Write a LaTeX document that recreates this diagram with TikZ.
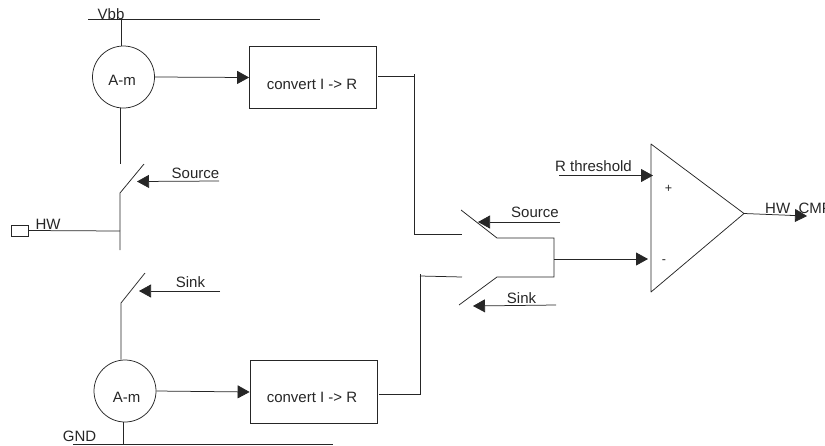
\documentclass[tikz,border=0pt]{standalone}
\usepackage{fontspec}
\setmainfont{Liberation Sans}
\usetikzlibrary{arrows.meta}
\tikzset{
  wire/.style={draw=black!85,line width=0.75pt},
  arr/.style={wire,-{Triangle[length=12pt,width=13pt]},shorten >=0pt},
  lab/.style={inner sep=0pt,font=\fontsize{15}{17}\selectfont,text=black!85},
  small/.style={inner sep=0pt,font=\fontsize{12.5}{14}\selectfont,text=black!85},
  meter/.style={circle,wire,minimum size=62pt,inner sep=0pt},
  conv/.style={rectangle,wire,inner sep=0pt},
  pt/.style={coordinate}
}
\begin{document}
\begin{tikzpicture}[x=1pt,y=-1pt]
\useasboundingbox (0,0) rectangle (825,445);
\clip (0,0) rectangle (825,445);
% rails
\coordinate (vbbL) at (88,19); \coordinate (vbbR) at (320,19);
\coordinate (vbbT) at (121.5,19);
\coordinate (gndL) at (73,444); \coordinate (gndR) at (333,444);
\coordinate (gndT) at (123.5,444);
\node[lab] (vbbtxt) at (111,14) {Vbb};
\draw[wire] (vbbL) -- (vbbR);
\node[lab,fill=white] (gndtxt) at (79.5,436) {GND};
\draw[wire] (gndL) -- (gndR);
% meters
\node[meter] (am1) at (123.5,77) {};
\node[lab] (am1t) at (122,80) {A-m};
\node[meter] (am2) at (125,391) {};
\node[lab] (am2t) at (126.5,397) {A-m};
\draw[wire] (vbbT) -- (vbbT |- am1.north);
\draw[wire] (am2.south -| gndT) -- (gndT);
% converters
\node[conv,minimum width=127pt,minimum height=62.5pt] (c1) at (313,77.5) {};
\node[lab] (c1t) at (312,84) {convert I -> R};
\node[conv,minimum width=127pt,minimum height=62.5pt] (c2) at (313.5,392) {};
\node[lab] (c2t) at (312,397) {convert I -> R};
\draw[arr] (am1.east) -- (c1.west);
\draw[arr] (am2.east) -- (c2.west);
% top left switch
\coordinate (s1a) at (120.5,164); \coordinate (s1b) at (144,164);
\coordinate (s1c) at (120,193); \coordinate (s1d) at (120,250);
\coordinate (hwj) at (120,231);
\node[conv,minimum width=17pt,minimum height=11pt] (hwbox) at (20,230.5) {};
\draw[wire] (s1a |- am1.south) -- (s1a);
\draw[wire] (s1b) -- (s1c) -- (s1d);
\draw[wire] (hwbox.east) -- (hwj);
\node[lab] (hwt) at (48,224) {HW};
\node[lab] (src1) at (195.5,173) {Source};
\coordinate (src1s) at (219,181); \coordinate (src1e) at (137,181.5);
\draw[arr] (src1s) -- (src1e);
% bottom left switch
\coordinate (s2b) at (145,273); \coordinate (s2c) at (121,303);
\draw[wire] (s2b) -- (s2c) -- (s2c |- am2.north);
\node[lab] (snk1) at (190.5,282) {Sink};
\coordinate (snk1s) at (220,291); \coordinate (snk1e) at (139,291);
\draw[arr] (snk1s) -- (snk1e);
% converter outputs
\coordinate (o1a) at (378,76); \coordinate (o1b) at (414,76);
\coordinate (o1t) at (414,74); \coordinate (o1c) at (414,234); \coordinate (o1d) at (462,234);
\draw[wire] (o1a) -- (o1b);
\draw[wire] (o1t) -- (o1c) -- (o1d);
\coordinate (o2a) at (379,394); \coordinate (o2b) at (420,394);
\coordinate (o2c) at (420,276); \coordinate (o2d) at (462,277);
\coordinate (o2t) at (420,274);
\draw[wire] (o2a) -- (o2b) -- (o2t);
\draw[wire] (o2c) -- (o2d);
% mux switches
\coordinate (m1a) at (461,210); \coordinate (m1b) at (497,238);
\coordinate (m2a) at (459,305); \coordinate (m2b) at (497,277);
\coordinate (mr1) at (554,238); \coordinate (mr2) at (554,277); \coordinate (mrc) at (554,259);
\draw[wire] (m1a) -- (m1b) -- (mr1) -- (mr2) -- (m2b) -- (m2a);
\node[lab] (src2) at (535,212) {Source};
\coordinate (src2s) at (560,222); \coordinate (src2e) at (478,222);
\draw[arr] (src2s) -- (src2e);
\node[lab] (snk2) at (521.5,298) {Sink};
\coordinate (snk2s) at (556,305); \coordinate (snk2e) at (473,306);
\draw[arr] (snk2s) -- (snk2e);
% comparator
\coordinate (t1) at (651,144); \coordinate (t2) at (744,213.5); \coordinate (t3) at (651,292);
\draw[wire,line join=round] (t1) -- (t2) -- (t3) -- cycle;
\node[lab] (rth) at (593.5,166) {R threshold};
\coordinate (rths) at (559,175.5); \coordinate (rthe) at (653,175.5);
\draw[arr] (rths) -- (rthe);
\coordinate (minus) at (648,259);
\draw[arr] (mrc) -- (minus);
\node[small] (plus) at (668.5,189) {+};
\node[small] (min) at (664,262) {-};
\coordinate (oute) at (807,216);
\node[lab,anchor=base west] (hwc) at (765,213) {HW\_CMP};
\draw[arr] (t2) -- (oute);
\end{tikzpicture}
\end{document}
